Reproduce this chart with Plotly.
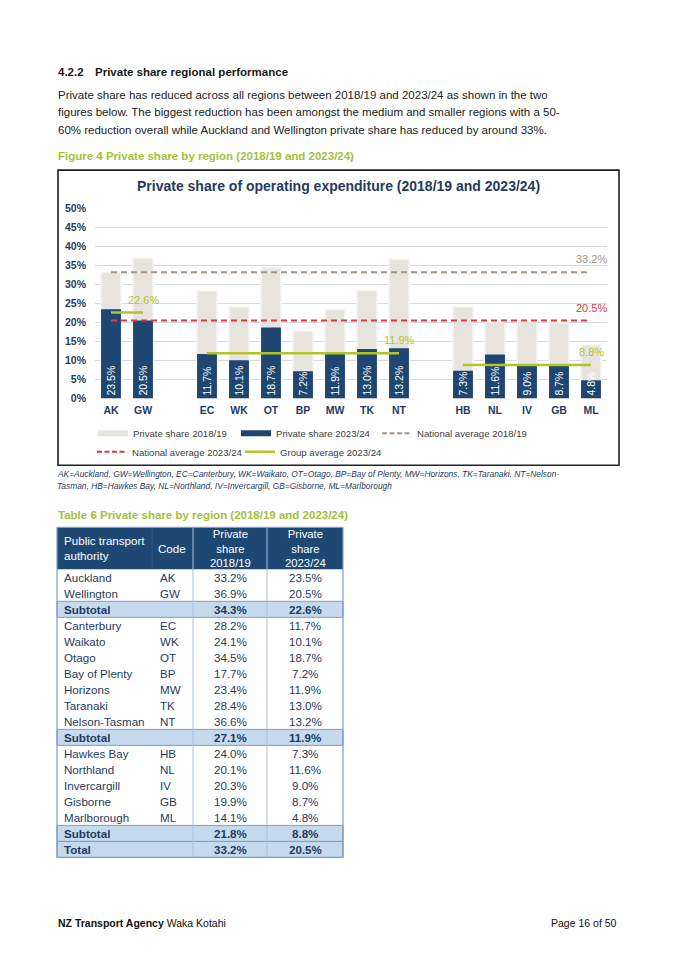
import plotly.graph_objects as go

W, H = 675, 962

# ---------------- data ----------------
codes = ["AK", "GW", "EC", "WK", "OT", "BP", "MW", "TK", "NT", "HB", "NL", "IV", "GB", "ML"]
names = ["Auckland", "Wellington", "Canterbury", "Waikato", "Otago", "Bay of Plenty", "Horizons",
         "Taranaki", "Nelson-Tasman", "Hawkes Bay", "Northland", "Invercargill", "Gisborne", "Marlborough"]
share_1819 = [33.2, 36.9, 28.2, 24.1, 34.5, 17.7, 23.4, 28.4, 36.6, 24.0, 20.1, 20.3, 19.9, 14.1]
share_2324 = [23.5, 20.5, 11.7, 10.1, 18.7, 7.2, 11.9, 13.0, 13.2, 7.3, 11.6, 9.0, 8.7, 4.8]
groups = [["AK", "GW"], ["EC", "WK", "OT", "BP", "MW", "TK", "NT"], ["HB", "NL", "IV", "GB", "ML"]]
group_avg_1819 = [34.3, 27.1, 21.8]
group_avg_2324 = [22.6, 11.9, 8.8]
national_1819 = 33.2
national_2324 = 20.5
axis_categories = ["AK", "GW", " ", "EC", "WK", "OT", "BP", "MW", "TK", "NT", "  ", "HB", "NL", "IV", "GB", "ML"]
y_ticks = [0, 5, 10, 15, 20, 25, 30, 35, 40, 45, 50]

# ---------------- styles ----------------
FONT = "Liberation Sans, Arial, sans-serif"
NAVY = "#1E4670"
TXT_NAVY = "#1F3B61"
GREY_BAR = "#E7E4E0"
BROWN = "#A39588"
RED = "#E0393E"
GREEN = "#B5C42A"
CAP_GREEN = "#A3C13A"

# vertical calibration of the rendered page (measured offset / scale)
V_OFF, V_SCALE = 5.93, 0.9871


def X(px):
    return px / W


def Y(py):
    return 1 - ((py - V_OFF) / V_SCALE) / H


fig = go.Figure()

# bars
fig.add_trace(go.Bar(x=codes, y=share_1819, name="Private share 2018/19", width=0.62,
                     marker=dict(color=GREY_BAR, line=dict(color="#F5F3F1", width=1.5)),
                     showlegend=False, hoverinfo="skip"))
fig.add_trace(go.Bar(x=codes, y=share_2324, name="Private share 2023/24", width=0.62,
                     marker=dict(color=NAVY, line=dict(width=0)),
                     texttemplate="%{y:.1f}%", textposition="inside", insidetextanchor="start",
                     textangle=-90, constraintext="none",
                     insidetextfont=dict(color="white", size=10.5, family=FONT),
                     showlegend=False, hoverinfo="skip"))

annotations = []
shapes = []

DASH = "6px,4px"
LABEL_SHIFT = 13
# national averages
for val, col in [(national_1819, BROWN), (national_2324, RED)]:
    fig.add_trace(go.Scatter(x=[codes[0], codes[-1]], y=[val, val], mode="lines",
                             line=dict(color=col, width=2, dash=DASH),
                             showlegend=False, hoverinfo="skip"))
    annotations.append(dict(x=codes[-1], y=val, xref="x", yref="y", text=f"{val:.1f}%", showarrow=False,
                            yshift=LABEL_SHIFT, font=dict(color=col, size=11, family=FONT)))
# group averages
for g, val in zip(groups, group_avg_2324):
    fig.add_trace(go.Scatter(x=[g[0], g[-1]], y=[val, val], mode="lines",
                             line=dict(color=GREEN, width=2.5),
                             showlegend=False, hoverinfo="skip"))
    annotations.append(dict(x=g[-1], y=val, xref="x", yref="y", text=f"{val:.1f}%", showarrow=False,
                            yshift=LABEL_SHIFT, font=dict(color=GREEN, size=11, family=FONT)))

# legend entries (each in its own legend box to reproduce the column layout)
LEG_DASH = "5px,2.5px"
leg_items = [
    ("Private share 2018/19", GREY_BAR, 6, "solid", "legend", 93, 433),
    ("Private share 2023/24", NAVY, 6, "solid", "legend2", 236, 433),
    ("National average 2018/19", BROWN, 2, LEG_DASH, "legend3", 377, 433),
    ("National average 2023/24", RED, 2, LEG_DASH, "legend4", 92, 451.5),
    ("Group average 2023/24", GREEN, 2.5, "solid", "legend5", 240, 451.5),
]
leg_common = dict(orientation="h", xanchor="left", yanchor="middle",
                  font=dict(size=9.6, color="#404040", family=FONT),
                  bgcolor="rgba(0,0,0,0)", itemwidth=30, tracegroupgap=0)
legend_layouts = {}
for nm, col, wd, ds, lg, lx, ly in leg_items:
    fig.add_trace(go.Scatter(x=[None], y=[None], mode="lines", name=nm,
                             line=dict(color=col, width=wd, dash=ds), legend=lg))
    legend_layouts[lg] = dict(x=X(lx), y=Y(ly), **leg_common)


def txt(x, y, s, size=12, color="#1a1a1a", anchor="left", bold=False, italic=False, vanchor="middle"):
    if bold:
        s = f"<b>{s}</b>"
    if italic:
        s = f"<i>{s}</i>"
    annotations.append(dict(x=X(x), y=Y(y), xref="paper", yref="paper", text=s, showarrow=False,
                            xanchor=anchor, yanchor=vanchor, align=anchor,
                            font=dict(size=size, color=color, family=FONT)))


# ---------------- page text ----------------
txt(56, 72, "4.2.2", 11.5, bold=True)
txt(93, 72, "Private share regional performance", 11.5, bold=True)
para = ["Private share has reduced across all regions between 2018/19 and 2023/24 as shown in the two",
        "figures below. The biggest reduction has been amongst the medium and smaller regions with a 50-",
        "60% reduction overall while Auckland and Wellington private share has reduced by around 33%."]
for i, line in enumerate(para):
    txt(56, 94.5 + 17.5 * i, line, 11.5, color="#222222")
txt(56, 156, "Figure 4 Private share by region (2018/19 and 2023/24)", 11.5, color=CAP_GREEN, bold=True)

# chart title and frame
txt(338, 186, "Private share of operating expenditure (2018/19 and 2023/24)", 14, color=TXT_NAVY,
    anchor="center", bold=True)
shapes.append(dict(type="rect", xref="paper", yref="paper", x0=X(58), x1=X(619), y0=Y(465), y1=Y(170),
                   line=dict(color="#222222", width=1.6), fillcolor="rgba(0,0,0,0)", layer="below"))

cap = ["AK=Auckland, GW=Wellington, EC=Canterbury, WK=Waikato, OT=Otago, BP=Bay of Plenty, MW=Horizons, TK=Taranaki, NT=Nelson-",
       "Tasman, HB=Hawkes Bay, NL=Northland, IV=Invercargill, GB=Gisborne, ML=Marlborough"]
for i, line in enumerate(cap):
    txt(55, 474 + 12 * i, line, 8.4, color=TXT_NAVY, italic=True)

txt(56, 515, "Table 6 Private share by region (2018/19 and 2023/24)", 11.5, color=CAP_GREEN, bold=True)

# ---------------- table ----------------
rows = []  # (name, code, v1819, v2324, kind)
for g, a1, a2 in zip(groups, group_avg_1819, group_avg_2324):
    for c in g:
        i = codes.index(c)
        rows.append((names[i], c, share_1819[i], share_2324[i], "row"))
    rows.append(("Subtotal", "", a1, a2, "sub"))
rows.append(("Total", "", national_1819, national_2324, "sub"))

T_L, T_R = 57, 343
COL_X = [57, 152, 193, 267, 343]
T_TOP, HDR_H, ROW_H = 527, 42, 16
TBL_BORDER = "#7F9EC2"
TBL_INNER = "#A9C0DC"
T_BOT = T_TOP + HDR_H + ROW_H * len(rows)

shapes.append(dict(type="rect", xref="paper", yref="paper", x0=X(T_L), x1=X(T_R), y0=Y(T_TOP + HDR_H),
                   y1=Y(T_TOP), fillcolor="#1E4874", line=dict(width=0)))
for r, row in enumerate(rows):
    y0 = T_TOP + HDR_H + ROW_H * r
    if row[4] == "sub":
        shapes.append(dict(type="rect", xref="paper", yref="paper", x0=X(T_L), x1=X(T_R), y0=Y(y0 + ROW_H),
                           y1=Y(y0), fillcolor="#C6DAEE", line=dict(color=TBL_BORDER, width=1)))
    bold = row[4] == "sub"
    yc = y0 + ROW_H / 2
    txt(COL_X[0] + 5, yc, row[0], 11.6, color=TXT_NAVY, bold=bold)
    txt(COL_X[1] + 6, yc, row[1], 11.6, color=TXT_NAVY, bold=bold)
    txt((COL_X[2] + COL_X[3]) / 2, yc, f"{row[2]:.1f}%", 11.6, color=TXT_NAVY, anchor="center", bold=bold)
    txt((COL_X[3] + COL_X[4]) / 2, yc, f"{row[3]:.1f}%", 11.6, color=TXT_NAVY, anchor="center", bold=bold)

for cx in COL_X[2:4]:
    shapes.append(dict(type="line", xref="paper", yref="paper", x0=X(cx), x1=X(cx), y0=Y(T_BOT), y1=Y(T_TOP),
                       line=dict(color=TBL_INNER, width=1)))
shapes.append(dict(type="line", xref="paper", yref="paper", x0=X(COL_X[1]), x1=X(COL_X[1]),
                   y0=Y(T_TOP + HDR_H), y1=Y(T_TOP), line=dict(color="#2C5683", width=1)))
shapes.append(dict(type="rect", xref="paper", yref="paper", x0=X(T_L), x1=X(T_R), y0=Y(T_BOT), y1=Y(T_TOP),
                   line=dict(color=TBL_BORDER, width=1.2), fillcolor="rgba(0,0,0,0)"))

hc = T_TOP + HDR_H / 2
txt(COL_X[0] + 5, hc, "Public transport<br>authority", 11.6, color="white")
txt(COL_X[1] + 4, hc, "Code", 11.6, color="white")
txt((COL_X[2] + COL_X[3]) / 2, hc, "Private<br>share<br>2018/19", 11.3, color="white", anchor="center")
txt((COL_X[3] + COL_X[4]) / 2, hc, "Private<br>share<br>2023/24", 11.3, color="white", anchor="center")

# footer
txt(56, 923, "<b>NZ Transport Agency</b> Waka Kotahi", 10.5, color="#111111")
txt(619, 923, "Page 16 of 50", 10.5, color="#111111", anchor="right")

fig.update_layout(
    width=W, height=H, autosize=False,
    margin=dict(l=0, r=0, t=0, b=0),
    paper_bgcolor="white", plot_bgcolor="rgba(0,0,0,0)",
    barmode="overlay",
    font=dict(family=FONT),
    xaxis=dict(domain=[X(95), X(607)], type="category", categoryorder="array",
               categoryarray=axis_categories, range=[-0.5, len(axis_categories) - 0.5],
               tickvals=axis_categories,
               ticktext=[f"<b>{c}</b>" if c.strip() else "" for c in axis_categories],
               tickfont=dict(size=10.5, color=TXT_NAVY, family=FONT), showgrid=False,
               showline=False, zeroline=False, ticks="", ticklabelstandoff=4, fixedrange=True),
    yaxis=dict(domain=[Y(398.3), Y(208.3)], range=[0, 50], tickvals=y_ticks,
               ticktext=[f"<b>{v}%</b>" for v in y_ticks],
               tickfont=dict(size=10.5, color=TXT_NAVY, family=FONT), showgrid=True,
               gridcolor="#D9D9D9", gridwidth=1, showline=False, zeroline=False, ticks="",
               ticklabelstandoff=8, fixedrange=True),
    annotations=annotations,
    shapes=shapes,
    **legend_layouts,
)

post = ("document.documentElement.style.margin='0';document.body.style.margin='0';"
        "document.body.style.padding='0';"
        "var gd=document.getElementById('{plot_id}');"
        "gd.style.position='absolute';gd.style.top='0px';gd.style.left='0px';")
fig.write_html("out.html", config={"displayModeBar": False, "staticPlot": True}, post_script=post)
